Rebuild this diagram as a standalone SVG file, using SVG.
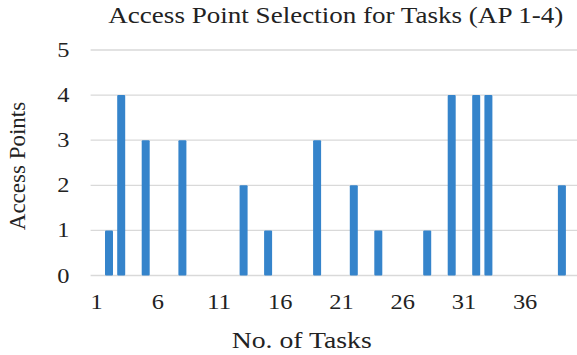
<svg xmlns="http://www.w3.org/2000/svg" width="577" height="355" viewBox="0 0 577 355">
  <style>
    .txt { font-family: "Liberation Serif", "Times New Roman", serif; fill: #222; }
    .title { font-size: 23px; }
    .axis-title { font-size: 23px; }
    .ytick { font-size: 21px; text-anchor: end; }
    .xtick { font-size: 21px; text-anchor: middle; }
    .grid line { stroke: #d9d9d9; stroke-width: 1.3; }
    .bars rect { fill: #3584cb; }
  </style>
  <rect width="577" height="355" fill="#ffffff"/>

  <text class="txt title" x="108.3" y="23" textLength="455" lengthAdjust="spacingAndGlyphs">Access Point Selection for Tasks (AP 1-4)</text>

  <!-- horizontal gridlines: value v at y = 275.5 - 45.1*v -->
  <g class="grid">
    <line x1="90.6" y1="275.5" x2="577" y2="275.5"/>
    <line x1="90.6" y1="230.4" x2="577" y2="230.4"/>
    <line x1="90.6" y1="185.3" x2="577" y2="185.3"/>
    <line x1="90.6" y1="140.2" x2="577" y2="140.2"/>
    <line x1="90.6" y1="95.1" x2="577" y2="95.1"/>
    <line x1="90.6" y1="50" x2="577" y2="50"/>
  </g>

  <g class="txt ytick">
    <text x="69.5" y="282.5" textLength="12.2" lengthAdjust="spacingAndGlyphs">0</text>
    <text x="69.5" y="237.4" textLength="12.2" lengthAdjust="spacingAndGlyphs">1</text>
    <text x="69.5" y="192.3" textLength="12.2" lengthAdjust="spacingAndGlyphs">2</text>
    <text x="69.5" y="147.2" textLength="12.2" lengthAdjust="spacingAndGlyphs">3</text>
    <text x="69.5" y="102.1" textLength="12.2" lengthAdjust="spacingAndGlyphs">4</text>
    <text x="69.5" y="57" textLength="12.2" lengthAdjust="spacingAndGlyphs">5</text>
  </g>

  <!-- bars: task n centred at x = 84.5 + 12.24*n, width 8 -->
  <g class="bars">
    <rect x="105" y="230.4" width="8" height="45.1" rx="1"/>
    <rect x="117.2" y="95.1" width="8" height="180.4" rx="1"/>
    <rect x="141.7" y="140.2" width="8" height="135.3" rx="1"/>
    <rect x="178.4" y="140.2" width="8" height="135.3" rx="1"/>
    <rect x="239.6" y="185.3" width="8" height="90.2" rx="1"/>
    <rect x="264.1" y="230.4" width="8" height="45.1" rx="1"/>
    <rect x="313.1" y="140.2" width="8" height="135.3" rx="1"/>
    <rect x="349.8" y="185.3" width="8" height="90.2" rx="1"/>
    <rect x="374.3" y="230.4" width="8" height="45.1" rx="1"/>
    <rect x="423.2" y="230.4" width="8" height="45.1" rx="1"/>
    <rect x="447.7" y="95.1" width="8" height="180.4" rx="1"/>
    <rect x="472.2" y="95.1" width="8" height="180.4" rx="1"/>
    <rect x="484.4" y="95.1" width="8" height="180.4" rx="1"/>
    <rect x="557.9" y="185.3" width="8" height="90.2" rx="1"/>
  </g>

  <g class="txt xtick">
    <text x="96.7" y="308.5" textLength="12.2" lengthAdjust="spacingAndGlyphs">1</text>
    <text x="157.9" y="308.5" textLength="12.2" lengthAdjust="spacingAndGlyphs">6</text>
    <text x="219.1" y="308.5" textLength="24.4" lengthAdjust="spacingAndGlyphs">11</text>
    <text x="280.3" y="308.5" textLength="24.4" lengthAdjust="spacingAndGlyphs">16</text>
    <text x="341.5" y="308.5" textLength="24.4" lengthAdjust="spacingAndGlyphs">21</text>
    <text x="402.7" y="308.5" textLength="24.4" lengthAdjust="spacingAndGlyphs">26</text>
    <text x="463.9" y="308.5" textLength="24.4" lengthAdjust="spacingAndGlyphs">31</text>
    <text x="525.1" y="308.5" textLength="24.4" lengthAdjust="spacingAndGlyphs">36</text>
  </g>

  <text class="txt axis-title" x="231.7" y="348" textLength="140" lengthAdjust="spacingAndGlyphs">No. of Tasks</text>
  <text class="txt axis-title" transform="translate(24.5,166) rotate(-90)" x="0" y="0" text-anchor="middle">Access Points</text>
</svg>
